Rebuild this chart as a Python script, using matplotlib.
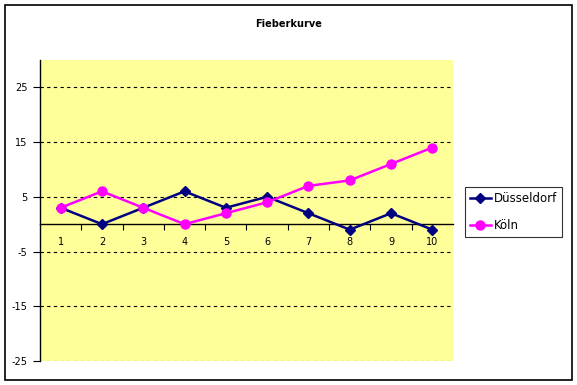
import matplotlib
matplotlib.use('Agg')
import matplotlib.pyplot as plt
from matplotlib.patches import Rectangle

days = [1, 2, 3, 4, 5, 6, 7, 8, 9, 10]
duesseldorf = [3, 0, 3, 6, 3, 5, 2, -1, 2, -1]
koeln = [3, 6, 3, 0, 2, 4, 7, 8, 11, 14]
y_ticks = [-25, -15, -5, 5, 15, 25]

plt.rcParams['axes.unicode_minus'] = False


def store_line_chart():
    fig = plt.figure(figsize=(5.77, 3.85), dpi=100)
    ax = fig.add_axes([40 / 577, 1 - 361 / 385, 413 / 577, 301 / 385])
    ax.set_facecolor('#ffff99')

    ax.plot(days, duesseldorf, color='#000080', marker='D', markersize=5.5,
            linewidth=1.8, label='Düsseldorf', zorder=3)
    ax.plot(days, koeln, color='#ff00ff', marker='o', markersize=6.5,
            linewidth=1.8, label='Köln', zorder=3)

    ax.set_xlim(0.5, 10.5)
    ax.set_ylim(-25, 30)

    # y axis
    ax.set_yticks(y_ticks)
    ax.tick_params(axis='y', direction='out', length=5, width=0.8, labelsize=7, pad=4)
    for t in y_ticks:
        ax.axhline(t, color='black', linestyle=(0, (3, 3)), linewidth=0.8, zorder=1)

    # x axis crosses at zero, tick marks between categories
    ax.spines['bottom'].set_position(('data', 0))
    ax.set_xticks(days)
    ax.set_xticks([d + 0.5 for d in days[:-1]], minor=True)
    ax.tick_params(axis='x', which='major', length=0, labelsize=7, pad=9)
    ax.tick_params(axis='x', which='minor', direction='out', length=4, width=0.8)

    ax.spines['top'].set_visible(False)
    ax.spines['right'].set_visible(False)
    ax.spines['left'].set_linewidth(1)
    ax.spines['bottom'].set_linewidth(1)

    fig.text(0.5, 1 - 24 / 385, 'Fieberkurve', ha='center', va='center',
             fontsize=7, fontweight='bold')

    leg = fig.legend(loc='upper left', bbox_to_anchor=(465 / 577, 1 - 187 / 385),
                     fontsize=8.5, frameon=True, fancybox=False, handlelength=1.8,
                     borderpad=0.4, labelspacing=1.25, handletextpad=0.25,
                     borderaxespad=0)
    leg.get_frame().set_edgecolor('black')
    leg.get_frame().set_linewidth(0.8)

    fig.patches.append(Rectangle((5 / 577, 5 / 385), 567 / 577, 375 / 385,
                                 transform=fig.transFigure, fill=False,
                                 edgecolor='black', linewidth=1.2))
    plt.savefig('out.png', dpi=100)


if __name__ == '__main__':
    store_line_chart()
